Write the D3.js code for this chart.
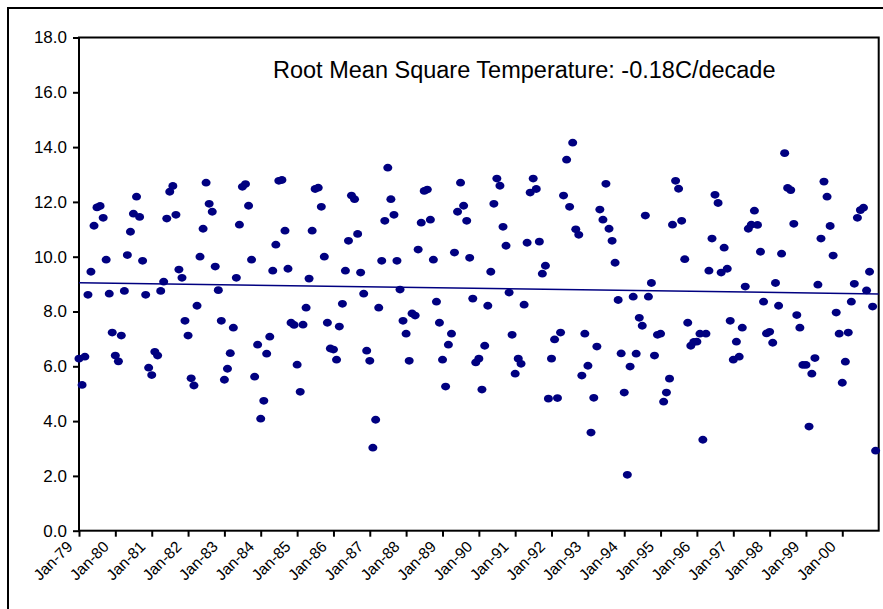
<!DOCTYPE html>
<html>
<head>
<meta charset="utf-8">
<script src="https://cdn.jsdelivr.net/npm/d3@7"></script>
<style>
body { margin: 0; background: #fff; }
text { font-family: "Liberation Sans", Arial, sans-serif; fill: #000; }
</style>
</head>
<body>
<script>
// monthly RMS temperature, Jan 1979 .. Dec 2000
var startYear = 1979,
    endYear = 2001;

var rmsTemp = [
  6.28, 5.32, 6.35, 8.61, 9.45, 11.13, 11.80, 11.85, 11.42, 9.89, 8.65, 7.23,   // 1979
  6.39, 6.18, 7.12, 8.75, 10.06, 10.91, 11.57, 12.19, 11.45, 9.85, 8.61, 5.95,  // 1980
  5.68, 6.53, 6.39, 8.75, 9.09, 11.39, 12.37, 12.58, 11.53, 9.53, 9.23, 7.66,   // 1981
  7.12, 5.56, 5.30, 8.21, 10.00, 11.02, 12.70, 11.93, 11.64, 9.64, 8.78, 7.66,  // 1982
  5.51, 5.91, 6.48, 7.41, 9.23, 11.17, 12.55, 12.65, 11.86, 9.89, 5.62, 6.79,   // 1983
  4.09, 4.74, 6.46, 7.08, 9.49, 10.44, 12.77, 12.80, 10.95, 9.56, 7.59, 7.51,   // 1984
  6.06, 5.07, 7.52, 8.14, 9.20, 10.95, 12.47, 12.52, 11.82, 10.00, 7.59, 6.65,  // 1985
  6.61, 6.24, 7.45, 8.28, 9.49, 10.58, 12.23, 12.10, 10.83, 9.42, 8.65, 6.57,   // 1986
  6.20, 3.03, 4.05, 8.14, 9.85, 11.31, 13.25, 12.10, 11.53, 9.85, 8.80, 7.66,   // 1987
  7.19, 6.20, 7.93, 7.85, 10.26, 11.24, 12.40, 12.45, 11.35, 9.89, 8.36, 7.59,  // 1988
  6.24, 5.26, 6.79, 7.19, 10.15, 11.64, 12.70, 11.86, 11.31, 9.96, 8.47, 6.14,  // 1989
  6.28, 5.15, 6.75, 8.21, 9.45, 11.93, 12.85, 12.59, 11.09, 10.40, 8.69, 7.15,  // 1990
  5.73, 6.28, 6.09, 8.25, 10.51, 12.34, 12.85, 12.47, 10.55, 9.38, 9.67, 4.82,  // 1991
  6.28, 6.98, 4.84, 7.23, 12.23, 13.54, 11.82, 14.16, 11.00, 10.80, 5.66, 7.19, // 1992
  6.02, 3.58, 4.85, 6.72, 11.72, 11.35, 12.66, 11.02, 10.58, 9.78, 8.42, 6.47,  // 1993
  5.04, 2.04, 5.99, 8.54, 6.46, 7.77, 7.48, 11.50, 8.54, 9.04, 6.39, 7.15,      // 1994
  7.19, 4.71, 5.04, 5.55, 11.17, 12.77, 12.48, 11.31, 9.91, 7.59, 6.75, 6.89,   // 1995
  6.90, 7.19, 3.32, 7.19, 9.49, 10.66, 12.26, 11.96, 9.42, 10.33, 9.56, 7.66,   // 1996
  6.24, 6.90, 6.35, 7.41, 8.91, 11.02, 11.17, 11.68, 11.16, 10.18, 8.36, 7.20,  // 1997
  7.26, 6.86, 9.04, 8.21, 10.11, 13.78, 12.51, 12.43, 11.20, 7.87, 7.41, 6.05,  // 1998
  6.05, 3.80, 5.73, 6.30, 8.98, 10.66, 12.74, 12.19, 11.12, 10.04, 7.96, 7.19,  // 1999
  5.40, 6.17, 7.23, 8.36, 9.01, 11.42, 11.70, 11.79, 8.77, 9.45, 8.18, 2.92     // 2000
];

// linear trend at the start and end of the period
var trendEnds = [9.05, 8.64];

var yTicks = [0, 2, 4, 6, 8, 10, 12, 14, 16, 18];

var title = "Root Mean Square Temperature: -0.18C/decade";

var svgWidth = 883,
    svgHeight = 609;

var margin = {top: 37.5, left: 79},
    width = 799.7,
    height = 493.2;

var x = d3.scaleTime()
    .domain([new Date(startYear, 0, 1), new Date(endYear, 0, 1)])
    .range([0, width]);

var y = d3.scaleLinear()
    .domain([0, 18])
    .range([height, 0]);

var data = rmsTemp.map(function(v, i) {
  return {date: new Date(startYear, i, 1), temp: v};
});

var svg = d3.select("body").append("svg")
    .attr("width", svgWidth)
    .attr("height", svgHeight);

// outer chart frame (runs off the right and bottom)
svg.append("rect")
    .attr("x", 8)
    .attr("y", 8)
    .attr("width", 1000)
    .attr("height", 1000)
    .attr("fill", "none")
    .attr("stroke", "#000")
    .attr("stroke-width", 2);

var g = svg.append("g")
    .attr("transform", "translate(" + margin.left + "," + margin.top + ")");

// x axis
var xAxis = d3.axisBottom(x)
    .tickValues(d3.timeYear.range(new Date(startYear, 0, 1), new Date(endYear, 0, 1)))
    .tickFormat(d3.timeFormat("%b-%y"))
    .tickSize(6)
    .tickSizeOuter(0);

var gx = g.append("g")
    .attr("transform", "translate(0," + height + ")")
    .call(xAxis);

gx.select(".domain").remove();
gx.selectAll(".tick line").attr("stroke", "#000").attr("stroke-width", 2);
gx.selectAll(".tick text")
    .attr("font-family", "'Liberation Sans', Arial, sans-serif")
    .attr("font-size", 15.5)
    .attr("x", 0)
    .attr("y", 0)
    .attr("dy", 0)
    .attr("text-anchor", "end")
    .attr("transform", "translate(-6,17) rotate(-45)");

// y axis
var yAxis = d3.axisLeft(y)
    .tickValues(yTicks)
    .tickFormat(d3.format(".1f"))
    .tickSize(6)
    .tickPadding(6)
    .tickSizeOuter(0);

var gy = g.append("g")
    .call(yAxis);

gy.select(".domain").remove();
gy.selectAll(".tick line").attr("stroke", "#000").attr("stroke-width", 2);
gy.selectAll(".tick text")
    .attr("font-family", "'Liberation Sans', Arial, sans-serif")
    .attr("font-size", 17);

// plot area box
g.append("rect")
    .attr("width", width)
    .attr("height", height)
    .attr("fill", "none")
    .attr("stroke", "#000")
    .attr("stroke-width", 2);

// trend line
var line = d3.line()
    .x(function(d) { return x(d.date); })
    .y(function(d) { return y(d.temp); });

g.append("path")
    .datum([
      {date: new Date(startYear, 0, 1), temp: trendEnds[0]},
      {date: new Date(endYear, 0, 1), temp: trendEnds[1]}
    ])
    .attr("d", line)
    .attr("fill", "none")
    .attr("stroke", "#000080")
    .attr("stroke-width", 1.5);

// monthly points
g.selectAll(".dot")
    .data(data)
  .enter().append("ellipse")
    .attr("class", "dot")
    .attr("cx", function(d) { return x(d.date); })
    .attr("cy", function(d) { return y(d.temp); })
    .attr("rx", 4.5)
    .attr("ry", 3.9)
    .attr("fill", "#000080");

// title
svg.append("text")
    .attr("x", 273)
    .attr("y", 78)
    .attr("font-size", 23.5)
    .text(title);
</script>
</body>
</html>
